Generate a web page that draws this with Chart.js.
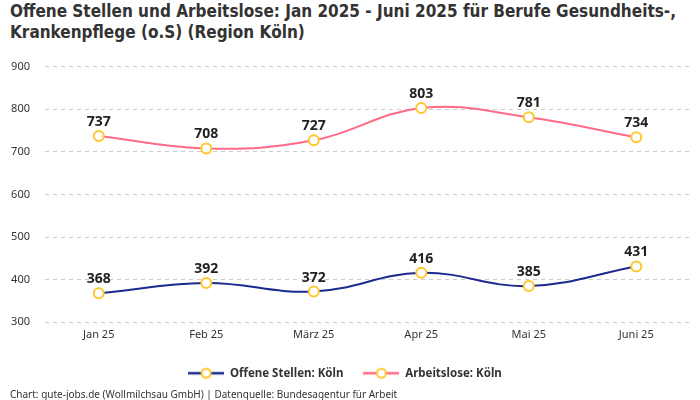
<!DOCTYPE html>
<html><head><meta charset="utf-8">
<script src="https://cdn.jsdelivr.net/npm/chart.js@4.4.0/dist/chart.umd.min.js"></script>
<style>
html,body{margin:0;padding:0;background:#fff;}
#wrap{position:relative;width:700px;height:400px;}
#title{position:absolute;left:10px;top:1px;font-family:"Liberation Sans Narrow","DejaVu Sans Condensed","Roboto",sans-serif;font-weight:bold;font-size:17px;line-height:21px;color:#333;font-stretch:condensed;}
#foot{position:absolute;left:10px;top:387px;font-family:"Noto Sans",sans-serif;font-size:10px;color:#333;}
#cv{position:absolute;left:0;top:45px;}
</style></head><body>
<div id="wrap">
<div id="title">Offene Stellen und Arbeitslose: Jan 2025 - Juni 2025 für Berufe Gesundheits-,<br>Krankenpflege (o.S) (Region Köln)</div>
<canvas id="cv" width="700" height="344"></canvas>
<div id="foot">Chart: gute-jobs.de (Wollmilchsau GmbH) | Datenquelle: Bundesagentur für Arbeit</div>
</div>
<script>
const labels = ["Jan 25","Feb 25","März 25","Apr 25","Mai 25","Juni 25"];
const offeneStellen = [368,392,372,416,385,431];
const arbeitslose = [737,708,727,803,781,734];

function legendIcon(color){
  const c=document.createElement('canvas');c.width=36;c.height=14;
  const g=c.getContext('2d');
  g.strokeStyle=color;g.lineWidth=2.5;g.beginPath();g.moveTo(0,7);g.lineTo(36,7);g.stroke();
  g.fillStyle='#fff';g.strokeStyle='#FFC72C';g.lineWidth=2;g.beginPath();g.arc(18,7,4.5,0,Math.PI*2);g.fill();g.stroke();
  return c;
}
const icons=[legendIcon('#1b2a8f'),legendIcon('#ff6b85')];

const valueLabels={id:'valueLabels',afterDatasetsDraw(chart){
  const ctx=chart.ctx;ctx.save();
  ctx.font='bold 14px "Noto Sans", sans-serif';ctx.fillStyle='#222';ctx.textAlign='center';ctx.textBaseline='bottom';
  chart.data.datasets.forEach((ds,i)=>{
    chart.getDatasetMeta(i).data.forEach((pt,j)=>{ctx.fillText(String(ds.data[j]),pt.x,pt.y-7);});
  });
  ctx.restore();
}};

new Chart(document.getElementById('cv'),{
  type:'line',
  data:{labels:labels,datasets:[
    {label:'Offene Stellen: Köln',data:offeneStellen,borderColor:'#1b2a8f',borderWidth:2,tension:0.4,
     pointRadius:5,pointBorderWidth:2,pointBackgroundColor:'#fff',pointBorderColor:'#FFC72C'},
    {label:'Arbeitslose: Köln',data:arbeitslose,borderColor:'#ff6b85',borderWidth:2,tension:0.4,
     pointRadius:5,pointBorderWidth:2,pointBackgroundColor:'#fff',pointBorderColor:'#FFC72C'}
  ]},
  options:{responsive:false,animation:false,
    layout:{padding:{left:0,right:10,top:0,bottom:0}},
    plugins:{
      legend:{position:'bottom',labels:{usePointStyle:true,pointStyleWidth:36,
        generateLabels(chart){return chart.data.datasets.map((ds,i)=>({text:ds.label,pointStyle:icons[i],datasetIndex:i,fontColor:'#333',lineWidth:0,strokeStyle:'transparent',fillStyle:'transparent'}));},
        font:{family:'"Noto Sans", sans-serif',size:11.5,weight:'bold'},color:'#333',padding:20,boxWidth:36,boxHeight:14}},
      tooltip:{enabled:false}
    },
    scales:{
      x:{offset:true,grid:{display:false,drawTicks:false},border:{display:false},
        ticks:{color:'#333',font:{family:'"Noto Sans", sans-serif',size:11},padding:6}},
      y:{min:300,max:900,border:{display:false,dash:[4,4]},
        afterFit(s){s.width=45;},
        grid:{color:'#cccccc',drawTicks:false},
        ticks:{stepSize:100,color:'#333',font:{family:'"Noto Sans", sans-serif',size:11},padding:15}}
    }
  },
  plugins:[valueLabels]
});
</script>
</body></html>
